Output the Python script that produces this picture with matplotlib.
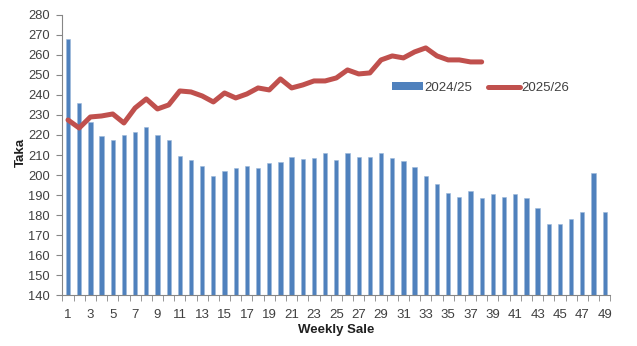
import matplotlib.pyplot as plt
from matplotlib.patches import Patch
from matplotlib.lines import Line2D
from matplotlib.ticker import FixedLocator

plt.rcParams['font.family'] = ['Liberation Sans', 'DejaVu Sans']

weeks = list(range(1, 50))
price_2024 = [268, 236, 226.5, 219.5, 217.3, 219.8, 221.7, 223.8, 220.2, 217.3,
              209.3, 207.5, 204.3, 199.7, 202.2, 203.5, 204.7, 203.7, 206, 206.7,
              209, 208, 208.3, 211.2, 207.7, 210.8, 208.8, 209.2, 210.8, 208.5,
              207.2, 204.2, 199.7, 195.3, 191.2, 189, 191.8, 188.3, 190.3, 189,
              190.3, 188.3, 183.3, 175.5, 175.5, 178.2, 181.5, 200.8, 181.5]
weeks_2025 = list(range(1, 39))
price_2025 = [227.5, 223.5, 229, 229.5, 230.5, 226, 233.5, 238, 233, 235,
              242, 241.5, 239.5, 236.5, 241, 238.5, 240.5, 243.5, 242.5, 248,
              243.5, 245, 247, 247, 248.5, 252.5, 250.5, 251, 257.5, 259.5,
              258.5, 261.5, 263.5, 259.5, 257.5, 257.5, 256.5, 256.5]

blue = '#4F81BD'
red = '#C0504D'
axis_gray = '#868686'
text_gray = '#404040'

fig = plt.figure(figsize=(6.37, 3.46), dpi=100)
ax = fig.add_axes([0.098, 0.147, 0.86, 0.81])

ax.bar(weeks, price_2024, width=0.38, color=blue, edgecolor='#9DB8DA',
       linewidth=0.4, zorder=2)
ax.plot(weeks_2025, price_2025, color=red, lw=3.6, solid_joinstyle='round',
        solid_capstyle='round', zorder=3)

ax.set_xlim(0.5, 49.5)
ax.set_ylim(140, 280)
ax.set_yticks(range(140, 281, 10))
ax.set_xticks(range(1, 50, 2))
ax.xaxis.set_minor_locator(FixedLocator([w + 0.5 for w in range(0, 50)]))
ax.tick_params(axis='x', which='major', length=0, pad=10, labelsize=9.5, labelcolor=text_gray)
ax.tick_params(axis='x', which='minor', length=4, color=axis_gray, direction='out')
ax.tick_params(axis='y', length=4, color=axis_gray, direction='out', pad=5,
               labelsize=9.3, labelcolor=text_gray)

for side in ['top', 'right']:
    ax.spines[side].set_visible(False)
for side in ['left', 'bottom']:
    ax.spines[side].set_color(axis_gray)
    ax.spines[side].set_linewidth(0.8)

ax.set_ylabel('Taka', fontsize=9.5, fontweight='bold', color='#202020')
ax.yaxis.set_label_coords(-0.064, 0.51)
ax.set_xlabel('Weekly Sale', fontsize=9.5, fontweight='bold', color='#202020', labelpad=2)

handles = [Patch(facecolor=blue, label='2024/25'),
           Line2D([0], [0], color=red, lw=3.6, solid_capstyle='round', label='2025/26')]
ax.legend(handles=handles, loc='center', bbox_to_anchor=(0.763, 0.739), ncol=2,
          frameon=False, fontsize=9.5, handlelength=2.4, handleheight=0.55,
          handletextpad=0.1, columnspacing=1.2, labelcolor=text_gray)

fig.savefig('out.png', dpi=100)
